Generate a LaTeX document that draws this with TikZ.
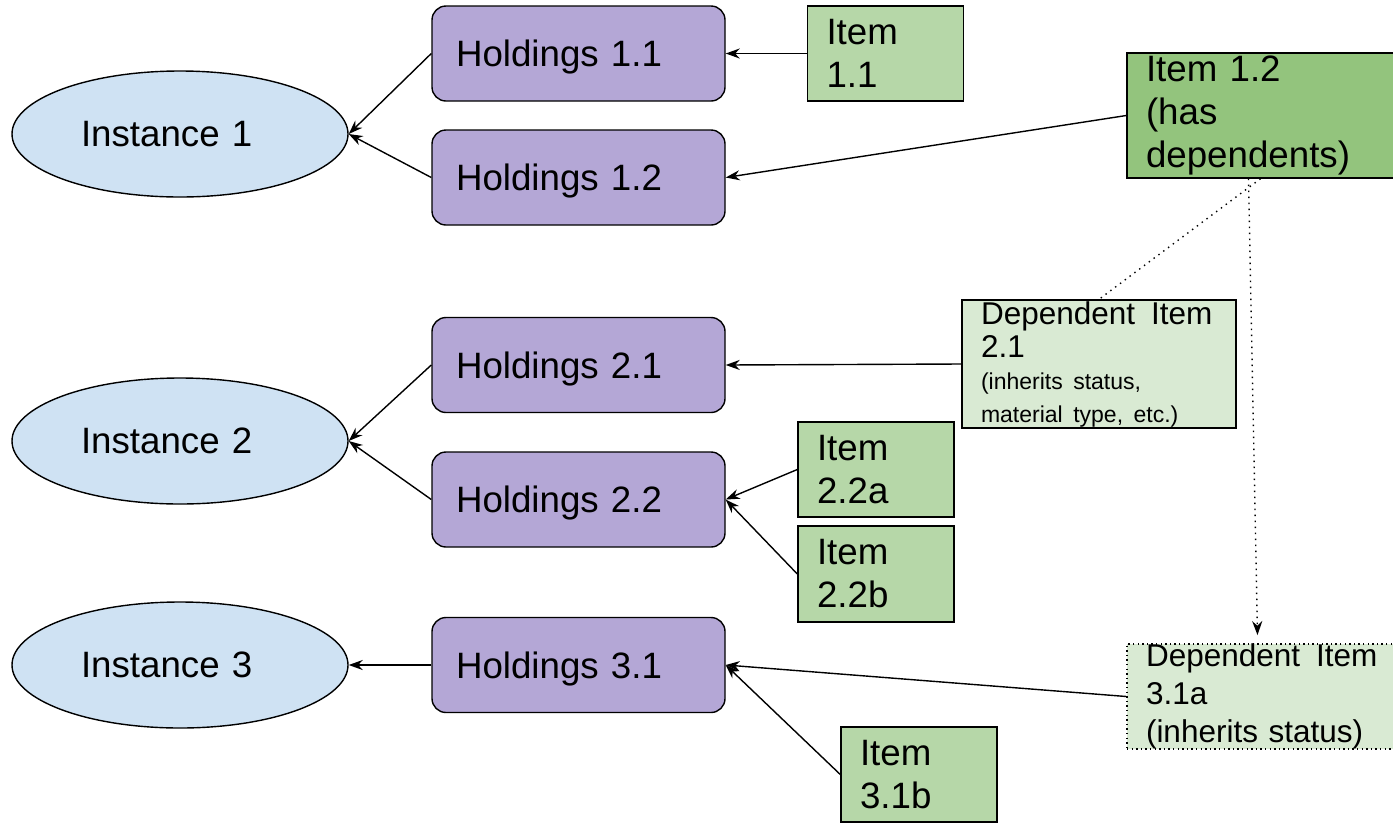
\documentclass[tikz,border=0pt]{standalone}
\usepackage{fontspec}
\setmainfont{Liberation Sans}
\usetikzlibrary{arrows.meta,shapes.geometric}

\definecolor{instblue}{HTML}{CFE2F3}
\definecolor{holdpurple}{HTML}{B4A7D6}
\definecolor{itemgreen}{HTML}{B6D7A8}
\definecolor{darkgreen}{HTML}{93C47D}
\definecolor{depgreen}{HTML}{D9EAD3}

\newcommand{\boxfont}{\fontsize{36.7}{43}\selectfont}
\newcommand{\depfont}{\fontsize{31.5}{33}\selectfont}
\newcommand{\notefont}{\fontsize{23}{27}\selectfont}
\newcommand{\depitem}{\mbox{Dependent\hspace{16pt}Item}}

\begin{document}
\begin{tikzpicture}[x=1pt, y=-1pt, line width=1.4pt,
  >={Stealth[length=14pt,width=10pt]},
  instance/.style={ellipse, draw, fill=instblue, minimum width=336pt, minimum height=126pt,
    inner sep=0pt, text width=198pt, align=left, font=\boxfont},
  holding/.style={rectangle, draw, rounded corners=14pt, fill=holdpurple, minimum height=95pt,
    inner xsep=24pt, inner ysep=0pt, text width=245pt, text depth=0pt, align=left, font=\boxfont},
  itembox/.style={rectangle, draw, fill=itemgreen, minimum height=95pt,
    inner xsep=19pt, inner ysep=0pt, text width=118pt, align=left, font=\boxfont},
  depbox/.style={rectangle, draw, fill=depgreen, inner xsep=19pt, inner ysep=0pt,
    align=left, font=\depfont},
  dotlink/.style={line width=1.4pt, dash pattern=on 1.4pt off 4.6pt}]

\useasboundingbox (0,0) rectangle (1393,823);

\node[instance] (inst1) at (180,134) {Instance 1};
\node[instance] (inst2) at (180,441) {Instance 2};
\node[instance] (inst3) at (180,665) {Instance 3};

\node[holding] (hold11) at (578.5,53.5) {Holdings 1.1};
\node[holding] (hold12) at (578.5,177.5) {Holdings 1.2};
\node[holding] (hold21) at (578.5,365) {Holdings 2.1};
\node[holding] (hold22) at (578.5,499.5) {Holdings 2.2};
\node[holding] (hold31) at (578.5,665) {Holdings 3.1};

\node[itembox] (item11) at (885.5,53.5) {Item\\1.1};
\node[itembox, fill=darkgreen, text width=235pt, minimum height=125pt] (item12) at (1263.5,115.5)
  {Item 1.2\\(has\\dependents)};
\node[depbox, text width=236pt, minimum height=128pt] (dep21) at (1099,364)
  {\depitem\\2.1\par\notefont\vspace{5pt}(inherits status,\\material type, etc.)};
\node[itembox] (item22a) at (876,469.5) {Item\\2.2a};
\node[itembox, minimum height=96pt] (item22b) at (876,574) {Item\\2.2b};
\node[depbox, text width=235pt, minimum height=103pt, dash pattern=on 1.4pt off 3.2pt,
  font={\fontsize{31.5}{38}\selectfont}] (dep31) at (1263.5,696.5)
  {\depitem\\3.1a\\(inherits status)};
\node[itembox] (item31b) at (919,774.5) {Item\\3.1b};

\draw[->] (hold11.west) -- (inst1.east);
\draw[->] (hold12.west) -- (inst1.east);
\draw[->] (hold21.west) -- (inst2.east);
\draw[->] (hold22.west) -- (inst2.east);
\draw[->] (hold31.west) -- (inst3.east);

\draw[->] (item11.west) -- (hold11.east);
\draw[->] (item12.west) -- (hold12.east);
\draw[->] (dep21.west) -- (hold21.east);
\draw[->] (item22a.west) -- (hold22.east);
\draw[->] (item22b.west) -- (hold22.east);
\draw[->] (dep31.west) -- (hold31.east);
\draw[->] (item31b.west) -- (hold31.east);

\draw[dotlink] ([xshift=-3pt]item12.south) -- (dep21.north);
\draw[dotlink, ->] ([xshift=-15pt]item12.south) -- ([xshift=-6pt,yshift=8pt]dep31.north);
\end{tikzpicture}
\end{document}
